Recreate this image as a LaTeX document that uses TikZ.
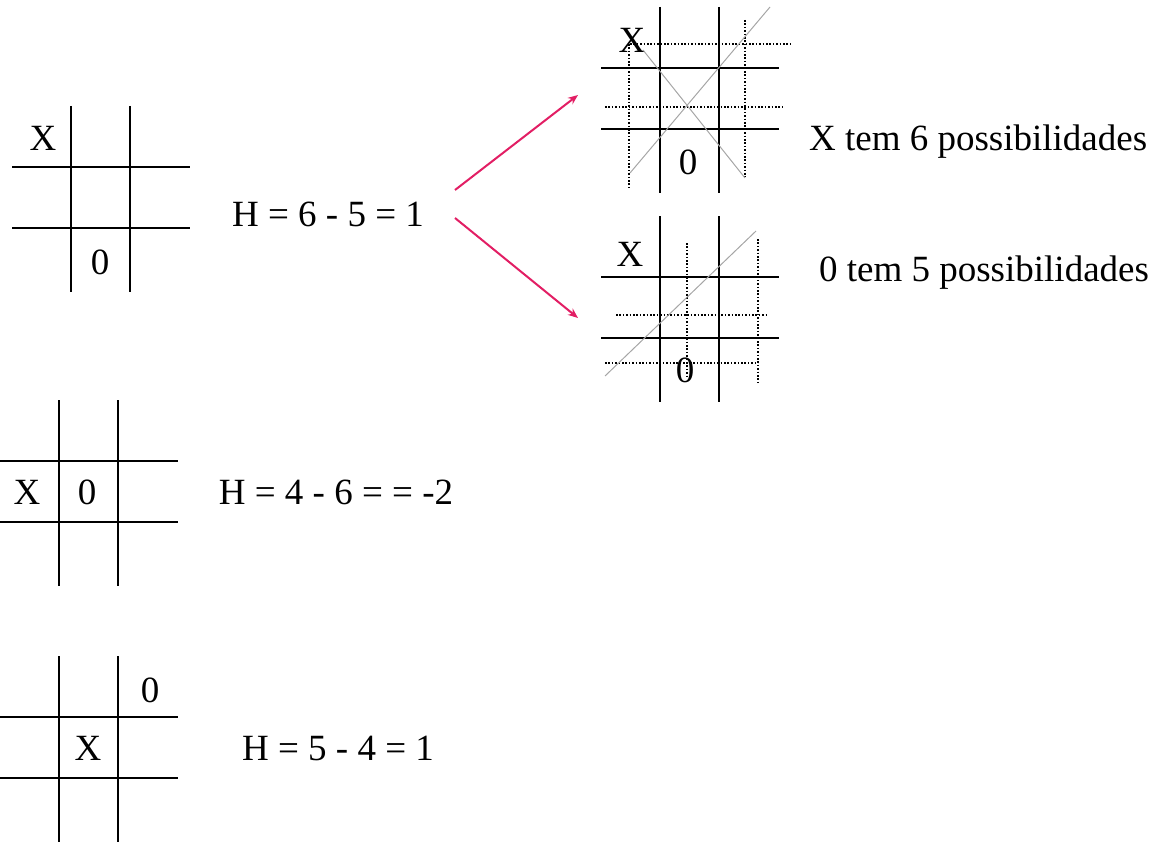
\documentclass[tikz,border=0pt]{standalone}
\usepackage{fontspec}
\setmainfont{Liberation Serif}
\usetikzlibrary{arrows.meta}

\definecolor{arrowpink}{RGB}{226,30,100}

\tikzset{
  gridline/.style={line width=1pt},
  hint/.style={dash pattern=on 0.8pt off 0.9pt, line width=1.1pt},
  cross/.style={gray!70, line width=0.5pt},
  sign/.style={font=\fontsize{18.5}{21}\selectfont},
  eval/.style={font=\fontsize{18.5}{21}\selectfont},
  move/.style={-{Stealth[length=5pt,width=4pt]}, line width=1pt, color=arrowpink}
}

% one empty board, origin at its upper left
\newcommand{\tttgrid}{%
  \foreach \x in {59,118} \draw[gridline] (\x,0) -- (\x,186);
  \foreach \y in {61,122} \draw[gridline] (0,\y) -- (178,\y);
}

\begin{document}
\begin{tikzpicture}[x=0.5pt,y=-0.5pt]
  \useasboundingbox (0,0) rectangle (1159,845);

  % boards on the left
  \begin{scope}[shift={(12,106)}]
    \tttgrid
    \node[sign] (b1x) at (31,32) {X};
    \node[sign] (b1o) at (88,156) {0};
  \end{scope}
  \begin{scope}[shift={(0,400)}]
    \tttgrid
    \node[sign] (b2x) at (27,92) {X};
    \node[sign] (b2o) at (87,92) {0};
  \end{scope}
  \begin{scope}[shift={(0,656)}]
    \tttgrid
    \node[sign] (b3o) at (150,34) {0};
    \node[sign] (b3x) at (88,92) {X};
  \end{scope}

  \node[eval] (h1) at (328,214) {H = 6 - 5 = 1};
  \node[eval] (h2) at (336,492) {H = 4 - 6 = = -2};
  \node[eval] (h3) at (338,748) {H = 5 - 4 = 1};

  % board for X
  \begin{scope}[shift={(601,7)}]
    \tttgrid
    \node[sign] (tx) at (31,33) {X};
    \node[sign] (to) at (87,155) {0};
  \end{scope}
  \draw[hint] (630,44) -- (793,44);
  \draw[hint] (605,107) -- (783,107);
  \draw[hint] (629,44) -- (629,190);
  \draw[hint] (745,20) -- (745,177);
  \draw[cross] (630,173) -- (770,7);
  \draw[cross] (643,50) -- (745,178);

  % board for 0
  \begin{scope}[shift={(601,216)}]
    \tttgrid
    \node[sign] (bx) at (29,38) {X};
    \node[sign] (bo) at (84,154) {0};
  \end{scope}
  \draw[hint] (616,315) -- (768,315);
  \draw[hint] (605,363) -- (758,363);
  \draw[hint] (687,243) -- (687,378);
  \draw[hint] (758,239) -- (758,383);
  \draw[cross] (605,376) -- (756,231);

  \node[eval, anchor=west] (px) at (802,142) {X tem 6 possibilidades};
  \node[eval, anchor=west] (po) at (812,273) {0 tem 5 possibilidades};

  \coordinate (s1) at (455,190);
  \coordinate (s2) at (455,218);
  \coordinate (e1) at (578,95);
  \coordinate (e2) at (578,318);
  \draw[move] (s1) -- (e1);
  \draw[move] (s2) -- (e2);
\end{tikzpicture}
\end{document}
